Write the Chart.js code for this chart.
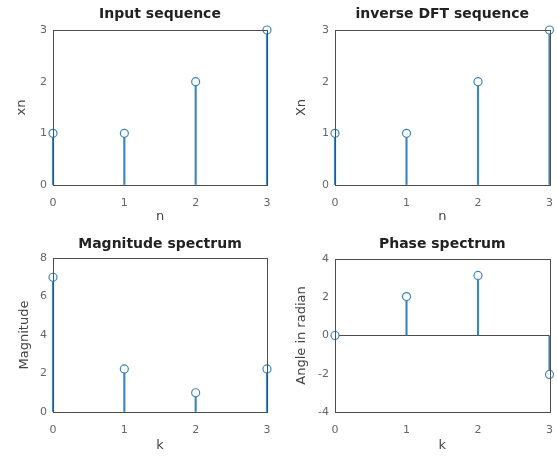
<!DOCTYPE html>
<html>
<head>
<meta charset="utf-8">
<script src="https://cdn.jsdelivr.net/npm/chart.js@4"></script>
<style>
  body { margin: 0; background: #fff; }
  .plot { position: absolute; }
</style>
</head>
<body>
<div class="plot" style="left:0;top:0"><canvas id="c1" width="279" height="230"></canvas></div>
<div class="plot" style="left:279px;top:0"><canvas id="c2" width="278" height="230"></canvas></div>
<div class="plot" style="left:0;top:229px"><canvas id="c3" width="279" height="230"></canvas></div>
<div class="plot" style="left:279px;top:229px"><canvas id="c4" width="278" height="230"></canvas></div>
<script>
const n = [0, 1, 2, 3];
const inputSeq = [1, 1, 2, 3];
const idftSeq = [1, 1, 2, 3];
const magnitude = [7, 2.236, 1, 2.236];
const phase = [0, 2.034, 3.142, -2.034];

const stemColor = '#3f86bd';
const boxColor = '#4d4d4d';
const font = 'DejaVu Sans';

// draws the title over the plot area and the closed axes box
const boxPlugin = {
    id: 'box',
    afterDraw(chart, args, opts) {
        const a = chart.chartArea;
        const c = chart.ctx;
        c.save();
        c.strokeStyle = boxColor;
        c.lineWidth = 1;
        c.strokeRect(Math.round(a.left) + 0.5, Math.round(a.top) + 0.5,
            Math.round(a.right - a.left), Math.round(a.bottom - a.top));
        c.fillStyle = '#222';
        c.font = 'bold 14px ' + font;
        c.textAlign = 'center';
        c.textBaseline = 'middle';
        c.fillText(opts.text, (a.left + a.right) / 2, opts.y);
        c.restore();
    }
};

function stemChart(id, title, xLabel, yLabel, values, yMin, yMax, yStep, area) {
    const canvas = document.getElementById(id);
    const pts = n.map((x, i) => ({ x: x, y: values[i] }));
    new Chart(canvas, {
        type: 'scatter',
        data: {
            datasets: [{
                type: 'scatter',
                data: pts,
                pointStyle: 'circle',
                pointRadius: 4,
                pointBorderWidth: 1.2,
                pointBorderColor: stemColor,
                pointBackgroundColor: '#fff',
                clip: false,
                order: 0
            }, {
                type: 'bar',
                data: pts,
                barThickness: 1.5,
                backgroundColor: stemColor,
                borderWidth: 0,
                clip: false,
                order: 1
            }]
        },
        options: {
            responsive: false,
            animation: false,
            layout: { padding: { top: area.top, right: canvas.width - area.right, left: 0, bottom: 0 } },
            plugins: {
                legend: { display: false },
                tooltip: { enabled: false },
                box: { text: title, y: area.titleY }
            },
            scales: {
                x: {
                    type: 'linear',
                    min: 0, max: 3,
                    offset: false,
                    grid: { display: false, offset: false },
                    border: { display: false },
                    ticks: { stepSize: 1, color: '#666', padding: 4, font: { family: font, size: 11 } },
                    title: { display: true, text: xLabel, color: '#444', padding: { top: 0, bottom: 6 }, font: { family: font, size: 13 } },
                    afterFit: s => { s.height = canvas.height - area.bottom; }
                },
                y: {
                    min: yMin, max: yMax,
                    grid: {
                        drawTicks: false,
                        color: ctx => (ctx.tick && ctx.tick.value === 0 && yMin < 0) ? boxColor : 'rgba(0,0,0,0)'
                    },
                    border: { display: false },
                    ticks: { stepSize: yStep, color: '#666', padding: 6, font: { family: font, size: 11 } },
                    title: { display: true, text: yLabel, color: '#444', padding: { top: area.yTitle, bottom: 0 }, font: { family: font, size: 13 } },
                    afterFit: s => { s.width = area.left; }
                }
            }
        },
        plugins: [boxPlugin]
    });
}

stemChart('c1', 'Input sequence', 'n', 'xn', inputSeq, 0, 3, 1,
    { left: 53, right: 267, top: 30, bottom: 185, titleY: 14, yTitle: 14 });
stemChart('c2', 'inverse DFT sequence', 'n', 'Xn', idftSeq, 0, 3, 1,
    { left: 56, right: 272, top: 30, bottom: 185, titleY: 14, yTitle: 15 });
stemChart('c3', 'Magnitude spectrum', 'k', 'Magnitude', magnitude, 0, 8, 2,
    { left: 53, right: 267, top: 29, bottom: 183, titleY: 15, yTitle: 17 });
stemChart('c4', 'Phase spectrum', 'k', 'Angle in radian', phase, -4, 4, 2,
    { left: 56, right: 272, top: 30, bottom: 183, titleY: 15, yTitle: 15 });
</script>
</body>
</html>
